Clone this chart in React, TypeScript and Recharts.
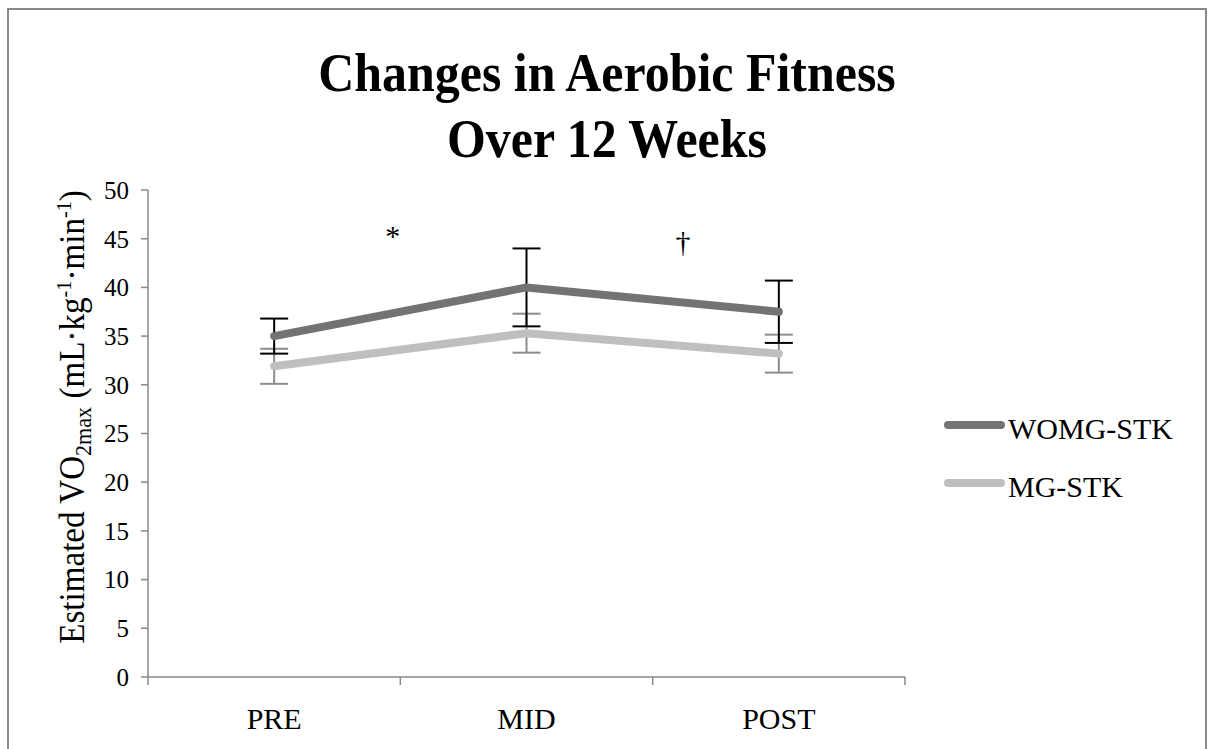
import React from 'react';
import { LineChart, Line, XAxis, YAxis, ErrorBar, ReferenceDot, Legend } from 'recharts';

const categories = ['PRE', 'MID', 'POST'];
const womgValues = [35.0, 40.0, 37.5];
const womgErrors = [1.8, 4.0, 3.2];
const mgValues = [31.9, 35.3, 33.2];
const mgErrors = [1.8, 2.0, 1.95];
const yTicks = [0, 5, 10, 15, 20, 25, 30, 35, 40, 45, 50];
const seriesNames = ['WOMG-STK', 'MG-STK'];
const seriesColors = ['#737373', '#bfbfbf'];
const errorColors = ['#000000', '#8c8c8c'];
const annotationX = [0.47, 1.62];
const annotationY = [45.3, 44.7];
const annotationText = ['*', '\u2020'];
const titleLines = ['Changes in Aerobic Fitness', 'Over 12 Weeks'];

const xTicks = [-0.5, 0, 0.5, 1, 1.5, 2, 2.5];

const data = categories.map((c, i) => ({
  idx: i,
  cat: c,
  womg: womgValues[i],
  womgErr: womgErrors[i],
  mg: mgValues[i],
  mgErr: mgErrors[i],
}));

const FONT = '"Liberation Serif", "Times New Roman", serif';
const AXIS = '#898989';

const XTick = (props: any) => {
  const { x, y, payload } = props;
  const v = payload.value;
  if (Number.isInteger(v)) {
    return (
      <text x={x} y={y + 44} textAnchor="middle" fontFamily={FONT} fontSize={30} fill="#000">
        {categories[v]}
      </text>
    );
  }
  return <line x1={x} x2={x} y1={y - 8} y2={y} stroke={AXIS} strokeWidth={1.5} />;
};

const YLabel = (props: any) => {
  const vb = props.viewBox || { x: 0, y: 0, width: 0, height: 0 };
  const cx = vb.x + 84;
  const cy = 417;
  return (
    <g transform={`translate(${cx}, ${cy}) rotate(-90) scale(0.92, 1)`}>
      <text x={0} y={0} textAnchor="middle" fontFamily={FONT} fontSize={36} fill="#000">
        <tspan>Estimated VO</tspan>
        <tspan fontSize={24} dy={7}>2max</tspan>
        <tspan dy={-7}> (mL·kg</tspan>
        <tspan fontSize={22} dy={-13}>-1</tspan>
        <tspan dy={13}>·min</tspan>
        <tspan fontSize={22} dy={-13}>-1</tspan>
        <tspan dy={13}>)</tspan>
      </text>
    </g>
  );
};

const renderLegend = () => (
  <svg width={260} height={120} style={{ display: 'block' }}>
    {seriesNames.map((n, i) => (
      <g key={n}>
        <line
          x1={12}
          y1={25 + i * 58}
          x2={65}
          y2={25 + i * 58}
          stroke={seriesColors[i]}
          strokeWidth={8}
          strokeLinecap="round"
        />
        <text x={72} y={39 + i * 58} fontFamily={FONT} fontSize={30} fill="#000">
          {n}
        </text>
      </g>
    ))}
  </svg>
);

export default function App() {
  return (
    <div
      style={{
        position: 'absolute',
        left: 0,
        top: 0,
        width: 1209,
        height: 749,
        overflow: 'hidden',
        background: '#fff',
      }}
    >
      <div
        style={{
          position: 'absolute',
          left: 7,
          top: 8,
          width: 1200,
          height: 800,
          border: `2px solid ${AXIS}`,
          boxSizing: 'border-box',
        }}
      />
      <svg
        width={1209}
        height={180}
        style={{ position: 'absolute', left: 0, top: 0, display: 'block' }}
      >
        {titleLines.map((t, i) => (
          <g key={t} transform={`translate(607, ${91 + i * 66}) scale(0.925, 1)`}>
            <text x={0} y={0} textAnchor="middle" fontFamily={FONT} fontWeight="bold" fontSize={54} fill="#000">
              {t}
            </text>
          </g>
        ))}
      </svg>
      <div style={{ position: 'absolute', left: 0, top: 0 }}>
        <LineChart width={1209} height={749} data={data} margin={{ top: 190, right: 304, bottom: 0, left: 0 }}>
          <XAxis
            dataKey="idx"
            type="number"
            domain={[-0.5, 2.5]}
            ticks={xTicks}
            interval={0}
            tickLine={false}
            tickSize={8}
            tickMargin={0}
            height={72}
            axisLine={{ stroke: AXIS, strokeWidth: 1.5 }}
            tick={<XTick />}
          />
          <YAxis
            type="number"
            domain={[0, 50]}
            ticks={yTicks}
            interval={0}
            width={148}
            tickSize={7}
            tickMargin={12}
            axisLine={{ stroke: AXIS, strokeWidth: 1.5 }}
            tickLine={{ stroke: AXIS, strokeWidth: 1.5 }}
            tick={{ fontFamily: FONT, fontSize: 25, fill: '#000' }}
            label={{ content: <YLabel /> }}
          />
          <Legend
            layout="vertical"
            align="center"
            verticalAlign="middle"
            content={renderLegend}
            wrapperStyle={{ left: 936, top: 400, width: 260, height: 120 }}
          />
          <Line dataKey="mg" stroke="none" dot={false} legendType="none" isAnimationActive={false}>
            <ErrorBar dataKey="mgErr" direction="y" width={14} stroke={errorColors[1]} strokeWidth={2} />
          </Line>
          <Line dataKey="womg" stroke="none" dot={false} legendType="none" isAnimationActive={false}>
            <ErrorBar dataKey="womgErr" direction="y" width={14} stroke={errorColors[0]} strokeWidth={2} />
          </Line>
          <Line
            name={seriesNames[1]}
            dataKey="mg"
            stroke={seriesColors[1]}
            strokeWidth={8}
            strokeLinecap="round"
            strokeLinejoin="round"
            dot={false}
            activeDot={false}
            isAnimationActive={false}
          />
          <Line
            name={seriesNames[0]}
            dataKey="womg"
            stroke={seriesColors[0]}
            strokeWidth={8}
            strokeLinecap="round"
            strokeLinejoin="round"
            dot={false}
            activeDot={false}
            isAnimationActive={false}
          />
          {annotationText.map((t, i) => (
            <ReferenceDot
              key={t}
              x={annotationX[i]}
              y={annotationY[i]}
              r={0}
              fill="none"
              stroke="none"
              label={{ value: t, position: 'center', fontFamily: FONT, fontSize: 30, fill: '#000' }}
            />
          ))}
        </LineChart>
      </div>
    </div>
  );
}
